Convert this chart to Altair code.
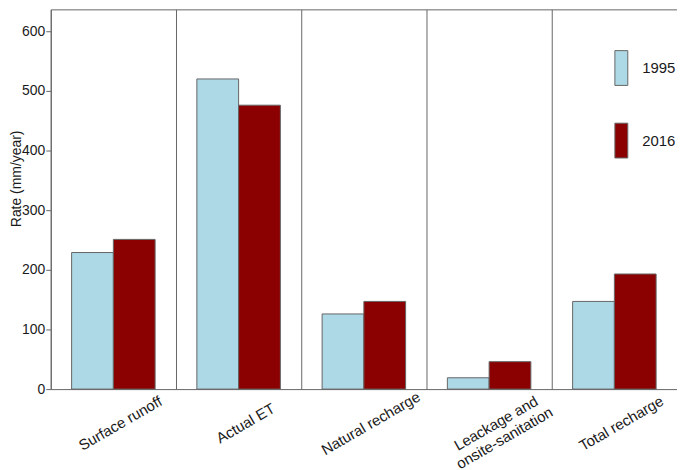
import altair as alt
import pandas as pd

categories = ["Surface runoff", "Actual ET", "Natural recharge",
              "Leackage and|onsite-sanitation", "Total recharge"]
years = ["1995", "2016"]
v1995 = [229, 520, 126, 19, 147]
v2016 = [251, 476, 147, 46, 193]
colors = ["#ADD8E6", "#8B0000"]
yticks = [0, 100, 200, 300, 400, 500, 600]

rows = []
for c, a, b in zip(categories, v1995, v2016):
    rows.append({"cat": c, "year": "1995", "rate": a})
    rows.append({"cat": c, "year": "2016", "rate": b})
df = pd.DataFrame(rows)

FONT = "Liberation Sans"
GRAY = "#666666"
TXT = "#1a1a1a"

chart = alt.Chart(df).mark_bar(stroke=GRAY, strokeWidth=1).encode(
    x=alt.X("cat:N", sort=categories,
            scale=alt.Scale(paddingInner=0, paddingOuter=0),
            axis=alt.Axis(title=None, labelAngle=-30, labelAlign="center",
                          labelBaseline="middle", labelPadding=34, tickSize=0,
                          domain=False, grid=True, bandPosition=0,
                          gridColor=GRAY, gridWidth=1, gridOpacity=1,
                          labelFont=FONT, labelFontSize=15, labelColor=TXT,
                          labelExpr="split(datum.label, '|')", labelLineHeight=17,
                          labelOffset=7)),
    xOffset=alt.XOffset("year:N", scale=alt.Scale(paddingInner=0, paddingOuter=0.5)),
    y=alt.Y("rate:Q", scale=alt.Scale(domain=[0, 636.67], nice=False, zero=True),
            axis=alt.Axis(title="Rate (mm/year)", values=yticks, grid=False,
                          domain=False, tickSize=5, tickColor=GRAY,
                          labelFont=FONT, labelFontSize=14, labelColor=TXT,
                          labelPadding=1, titleFont=FONT, titleFontSize=14,
                          titleFontWeight="normal", titleColor=TXT,
                          titleX=-30, titleY=170, titleAngle=270,
                          titleBaseline="alphabetic", titleAlign="center")),
    color=alt.Color("year:N", scale=alt.Scale(domain=years, range=colors),
                    legend=alt.Legend(title=None, orient="none", legendX=556, legendY=41,
                                      symbolType="M-0.371,-1L0.371,-1L0.371,1L-0.371,1Z",
                                      symbolSize=1225, symbolStrokeColor=GRAY,
                                      symbolStrokeWidth=1, symbolOpacity=1,
                                      rowPadding=33, labelOffset=3, padding=0,
                                      labelFont=FONT, labelFontSize=15,
                                      labelColor=TXT)),
).properties(
    width=630, height=382,
    autosize=alt.AutoSizeParams(type="none"),
    padding={"left": 43, "top": 0, "right": 0, "bottom": 80},
).configure_view(stroke=GRAY, strokeWidth=1)

chart.save("out.html", embed_options={"renderer": "svg", "actions": False})
